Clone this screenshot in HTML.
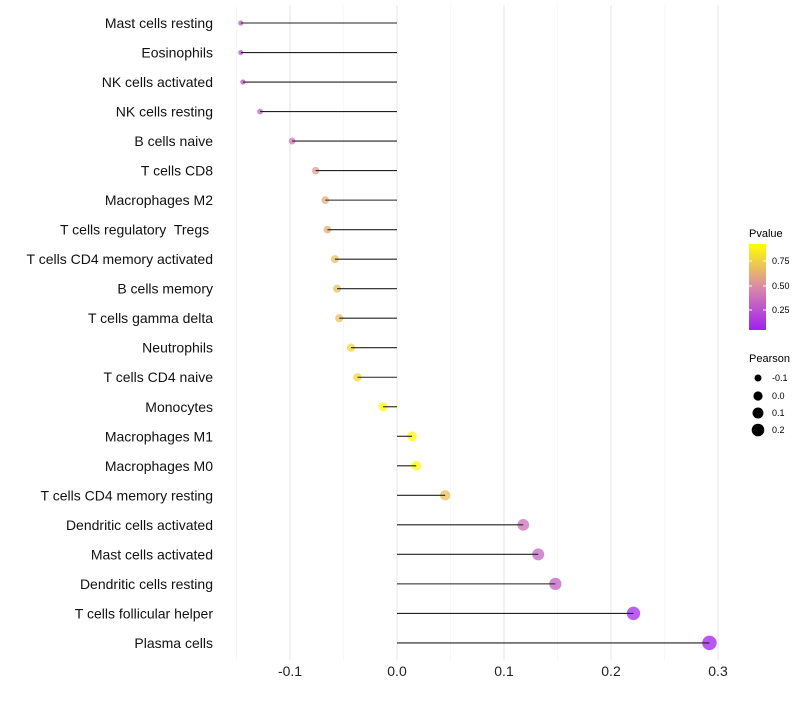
<!DOCTYPE html>
<html><head><meta charset="utf-8"><style>
body{margin:0;background:#fff;font-family:"Liberation Sans",sans-serif}
</style></head><body>
<svg id="c" width="800" height="700">
<defs>
<linearGradient id="pg" x1="0" y1="1" x2="0" y2="0">
<stop offset="0" stop-color="#a020f0"/><stop offset="0.5" stop-color="#d98aa8"/><stop offset="1" stop-color="#ffff00"/>
</linearGradient>
</defs>
<g id="grid"></g><g id="marks"></g><g id="stems"></g><g id="axes"></g>
<g>
<text x="749" y="237" font-size="11" fill="#000">Pvalue</text>
<rect x="749" y="244" width="17" height="86" fill="url(#pg)"/>
<line x1="749" x2="752" y1="261" y2="261" stroke="#fff"/><line x1="763" x2="766" y1="261" y2="261" stroke="#fff"/>
<line x1="749" x2="752" y1="286" y2="286" stroke="#fff"/><line x1="763" x2="766" y1="286" y2="286" stroke="#fff"/>
<line x1="749" x2="752" y1="310" y2="310" stroke="#fff"/><line x1="763" x2="766" y1="310" y2="310" stroke="#fff"/>
<text x="772" y="264" font-size="9">0.75</text><text x="772" y="289" font-size="9">0.50</text><text x="772" y="313" font-size="9">0.25</text>
</g>
<g>
<text x="749" y="362" font-size="11">Pearson</text>
<circle cx="758" cy="378" r="3.5"/><text x="772" y="381" font-size="9">-0.1</text>
<circle cx="758" cy="396" r="4.6"/><text x="772" y="399" font-size="9">0.0</text>
<circle cx="758" cy="413" r="5.5"/><text x="772" y="416" font-size="9">0.1</text>
<circle cx="758" cy="430" r="6.3"/><text x="772" y="433" font-size="9">0.2</text>
</g>
</svg>
<script>
const categories=["Mast cells resting","Eosinophils","NK cells activated","NK cells resting","B cells naive","T cells CD8","Macrophages M2","T cells regulatory  Tregs ","T cells CD4 memory activated","B cells memory","T cells gamma delta","Neutrophils","T cells CD4 naive","Monocytes","Macrophages M1","Macrophages M0","T cells CD4 memory resting","Dendritic cells activated","Mast cells activated","Dendritic cells resting","T cells follicular helper","Plasma cells"];
const pearson=[-0.146,-0.146,-0.144,-0.128,-0.098,-0.076,-0.067,-0.065,-0.058,-0.056,-0.054,-0.043,-0.037,-0.013,0.014,0.018,0.045,0.118,0.132,0.148,0.221,0.292];
const pvalue=[0.3,0.3,0.28,0.35,0.42,0.56,0.62,0.63,0.68,0.69,0.7,0.78,0.8,0.93,0.93,0.92,0.7,0.38,0.34,0.32,0.1,0.05];
const xTicks=[-0.1,0.0,0.1,0.2,0.3];
const ns="http://www.w3.org/2000/svg";
const X=v=>397+v*1070;
const Y=i=>23+i*29.52;
const R=v=>Math.sqrt(Math.max(4,16+105*(v+0.058)));
function col(p){const t=Math.max(0,Math.min(1,(p-0.05)/0.88));
 const a=[160,32,240],m=[217,138,168],b=[255,255,0];let c;
 if(t<0.5){const u=t/0.5;c=a.map((v,k)=>v+(m[k]-v)*u);}else{const u=(t-0.5)/0.5;c=m.map((v,k)=>v+(b[k]-v)*u);}
 return `rgb(${c.map(Math.round).join(',')})`;}
function mk(tag,at,par){const e=document.createElementNS(ns,tag);for(const k in at)e.setAttribute(k,at[k]);document.getElementById(par).appendChild(e);return e;}
for(let v=-0.15;v<=0.31;v+=0.05){const major=Math.abs(Math.round(v*20)%2)===0;
 const g=mk('line',{x1:X(v),x2:X(v),y1:5,y2:660,stroke:major?'#e6e6e6':'#f2f2f2','stroke-width':major?1:0.6},'grid');
 
 }
xTicks.forEach(t=>{const e=mk('text',{x:X(t),y:676,'font-size':14,'text-anchor':'middle',fill:'#222'},'axes');e.textContent=t.toFixed(1);
 
 });
categories.forEach((c,i)=>{const e=mk('text',{x:213,y:Y(i)+5,'font-size':14,'text-anchor':'end',fill:'#111','xml:space':'preserve'},'axes');e.style.whiteSpace='pre';e.textContent=c;
 
 
 const p=mk('circle',{cx:X(pearson[i]),cy:Y(i),r:R(pearson[i]),fill:col(pvalue[i]),'fill-opacity':0.75},'marks');
 
 
 const l=mk('line',{x1:X(0),x2:X(pearson[i]),y1:Y(i),y2:Y(i),stroke:'#222','stroke-width':1.1},'stems');
 
 });
</script>
</body></html>
